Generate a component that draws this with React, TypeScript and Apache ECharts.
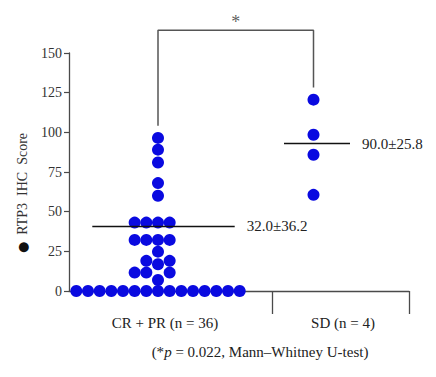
import React, { useEffect, useRef } from 'react';
import * as echarts from 'echarts';

// ---- data ----
const groupLabels = ['CR + PR (n = 36)', 'SD (n = 4)'];
const crprZeroRow = [0, 0, 0, 0, 0, 0, 0, 0, 0, 0, 0, 0, 0, 0, 0];
const crprStackedColumns = [
  [11.6, 32.2, 43.1],
  [11.6, 19.0, 32.2, 43.1],
  [6.9, 16.9, 24.8, 32.2, 43.1, 60.0, 68.0, 81.0, 89.1, 96.5],
  [11.6, 19.0, 32.2, 43.1],
];
const crprColumnOffsets = [-2, -1, 0, 1];
const sdScores = [120.6, 98.5, 85.9, 60.6];
const meanLineLevels = [41.0, 92.9];
const meanLabels = ['32.0±36.2', '90.0±25.8'];
const yTicks = [0, 25, 50, 75, 100, 125, 150];
const significanceMark = '*';
const footnoteParts = ['(*', 'p', ' = 0.022, Mann–Whitney U-test)'];
const yAxisTitleParts = ['●', '  RTP3  IHC  Score'];

// ---- layout ----
const X_MAX = 340;
const GROUP_X = [89, 244.5];
const COL_STEP = 11.67;
const MEAN_SPAN = [
  [23.3, 165.7],
  [215, 281],
];
const DIVIDERS = [203, 340];
const LABEL_X = [96, 274];
const BRACKET_TOP = 164.4;
const BRACKET_FEET = [104.2, 128.2];
const STAR_Y = 169.8;

const FONT = "'Liberation Serif', 'Times New Roman', serif";
const DOT = '#0a0ae0';
const AXIS = '#4a4a4a';

export default function App() {
  const ref = useRef<HTMLDivElement>(null);

  useEffect(() => {
    if (!ref.current) return;
    const chart = echarts.init(ref.current, undefined, { renderer: 'svg' });

    const points: number[][] = [];
    crprZeroRow.forEach((v, i) => {
      points.push([GROUP_X[0] + (i - (crprZeroRow.length - 1) / 2) * COL_STEP, v]);
    });
    crprStackedColumns.forEach((col, ci) => {
      col.forEach((v) => points.push([GROUP_X[0] + crprColumnOffsets[ci] * COL_STEP, v]));
    });
    sdScores.forEach((v) => points.push([GROUP_X[1], v]));

    const yMin = yTicks[0];
    const yMax = yTicks[yTicks.length - 1];
    const yStep = yTicks[1] - yTicks[0];

    chart.setOption({
      animation: false,
      backgroundColor: '#ffffff',
      grid: { left: 69, right: 27, top: 53, bottom: 86 },
      xAxis: {
        type: 'value',
        min: 0,
        max: X_MAX,
        splitLine: { show: false },
        axisLine: { show: true, onZero: false, lineStyle: { color: AXIS, width: 1.3 } },
        axisTick: {
          show: true,
          customValues: DIVIDERS,
          length: 23,
          lineStyle: { color: AXIS, width: 1.3 },
        },
        axisLabel: {
          show: true,
          customValues: LABEL_X,
          margin: 24,
          fontFamily: FONT,
          fontSize: 15,
          color: '#222',
          formatter: (v: number) => {
            let best = 0;
            LABEL_X.forEach((lx, i) => {
              if (Math.abs(lx - v) < Math.abs(LABEL_X[best] - v)) best = i;
            });
            return groupLabels[best];
          },
        },
      },
      yAxis: {
        type: 'value',
        min: yMin,
        max: yMax,
        interval: yStep,
        splitLine: { show: false },
        axisLine: { show: true, lineStyle: { color: AXIS, width: 1.3 } },
        axisTick: { show: true, length: 5, lineStyle: { color: AXIS, width: 1.2 } },
        axisLabel: { margin: 7, fontFamily: FONT, fontSize: 14, color: '#333' },
      },
      series: [
        {
          type: 'scatter',
          data: points,
          symbol: 'circle',
          symbolSize: 12,
          itemStyle: { color: DOT, opacity: 1 },
          z: 3,
          markLine: {
            silent: true,
            symbol: ['none', 'none'],
            lineStyle: { color: '#111', width: 1.3, type: 'solid' },
            label: {
              show: true,
              position: 'end',
              distance: 12,
              formatter: '{b}',
              fontFamily: FONT,
              fontSize: 15,
              color: '#222',
            },
            data: meanLineLevels.map((m, i) => [
              { name: meanLabels[i], coord: [MEAN_SPAN[i][0], m] },
              { coord: [MEAN_SPAN[i][1], m] },
            ]),
          },
        },
        {
          type: 'line',
          clip: false,
          symbol: 'none',
          silent: true,
          lineStyle: { color: '#555', width: 1.5 },
          data: [
            [GROUP_X[0], BRACKET_FEET[0]],
            [GROUP_X[0], BRACKET_TOP],
            [GROUP_X[1], BRACKET_TOP],
            [GROUP_X[1], BRACKET_FEET[1]],
          ],
          z: 2,
        },
        {
          type: 'scatter',
          clip: false,
          silent: true,
          symbolSize: 0,
          data: [[(GROUP_X[0] + GROUP_X[1]) / 2, STAR_Y]],
          label: {
            show: true,
            position: 'inside',
            formatter: significanceMark,
            fontFamily: FONT,
            fontSize: 18,
            color: '#333',
          },
        },
      ],
      graphic: [
        {
          type: 'text',
          x: 22,
          y: 193,
          rotation: Math.PI / 2,
          style: {
            text: `{d|${yAxisTitleParts[0]}}{t|${yAxisTitleParts[1]}}`,
            textAlign: 'center',
            textVerticalAlign: 'middle',
            rich: {
              d: { fontFamily: 'DejaVu Sans', fontSize: 13, fill: '#111' },
              t: { fontFamily: FONT, fontSize: 14, fill: '#333' },
            },
          },
        },
        {
          type: 'text',
          x: 260,
          y: 352,
          style: {
            text: `{a|${footnoteParts[0]}}{i|${footnoteParts[1]}}{a|${footnoteParts[2]}}`,
            textAlign: 'center',
            textVerticalAlign: 'middle',
            rich: {
              a: { fontFamily: FONT, fontSize: 15, fill: '#222' },
              i: { fontFamily: FONT, fontSize: 15, fontStyle: 'italic', fill: '#222' },
            },
          },
        },
      ],
    });

    return () => chart.dispose();
  }, []);

  return (
    <div
      ref={ref}
      style={{ position: 'fixed', left: 0, top: 0, width: 436, height: 377, background: '#fff' }}
    />
  );
}
